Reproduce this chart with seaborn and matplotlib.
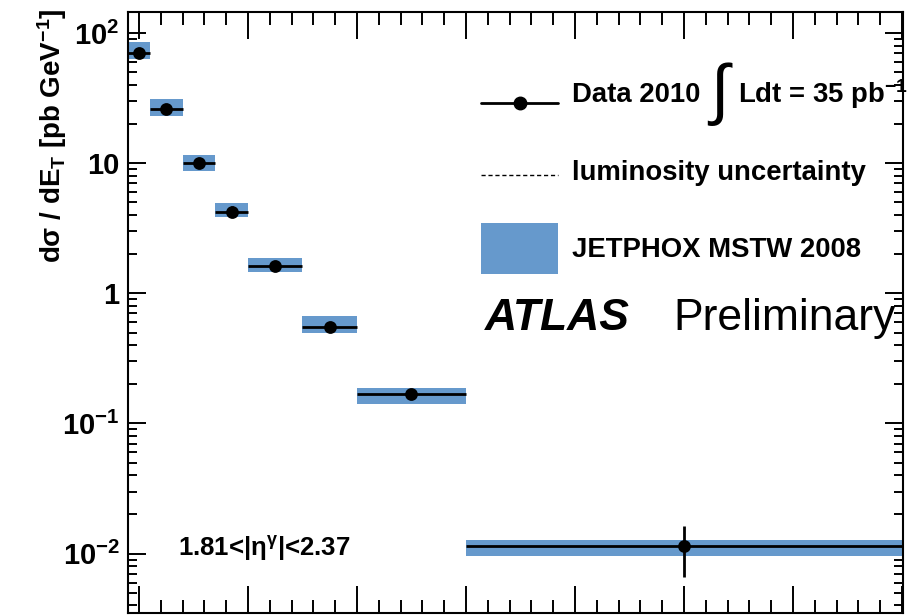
import numpy as np
import pandas as pd
import matplotlib
matplotlib.use("Agg")
import matplotlib.pyplot as plt
import seaborn as sns
from matplotlib.lines import Line2D
from matplotlib.patches import Patch
from matplotlib.legend_handler import HandlerLine2D
from matplotlib.ticker import (FixedLocator, FixedFormatter, MultipleLocator,
                               LogLocator, NullFormatter)

# ---------------- data ----------------
bin_lo = [45, 55, 70, 85, 100, 125, 150, 200]
bin_hi = [55, 70, 85, 100, 125, 150, 200, 400]
data_xsec = [70.0, 26.2, 10.0, 4.25, 1.63, 0.55, 0.168, 0.0114]
data_err = [3.5, 1.3, 0.5, 0.4, 0.09, 0.035, 0.012, 0.0048]
theory_lo = [63.0, 23.2, 8.63, 3.83, 1.47, 0.492, 0.141, 0.00953]
theory_hi = [84.7, 31.2, 11.6, 4.95, 1.88, 0.669, 0.189, 0.0128]
ytick_vals = [1e-2, 1e-1, 1, 10, 100]
ytick_labels = [r"10$^{-2}$", r"10$^{-1}$", "1", "10", r"10$^{2}$"]
legend_labels = ["Data 2010", "luminosity uncertainty", "JETPHOX MSTW 2008"]

# ---------------- style ----------------
sns.set_theme(style="ticks")
plt.rcParams['font.family'] = ['Liberation Sans', 'DejaVu Sans']
plt.rcParams['font.weight'] = 'bold'
plt.rcParams['mathtext.fontset'] = 'custom'
plt.rcParams['mathtext.rm'] = 'Liberation Sans:bold'
plt.rcParams['mathtext.it'] = 'Liberation Sans:italic:bold'
plt.rcParams['mathtext.bf'] = 'Liberation Sans:bold'
plt.rcParams['mathtext.default'] = 'rm'
for k in ['text.color', 'axes.labelcolor', 'xtick.color', 'ytick.color',
          'axes.edgecolor']:
    plt.rcParams[k] = 'black'

BLUE = '#6699cc'
W, H = 912, 616


class ShiftedLineHandler(HandlerLine2D):
    """Legend line handler with a vertical offset (pixels)."""
    def __init__(self, dy=0.0, **kw):
        super().__init__(**kw)
        self.dy = dy

    def create_artists(self, legend, orig_handle, xdescent, ydescent, width,
                       height, fontsize, trans):
        arts = super().create_artists(legend, orig_handle, xdescent, ydescent,
                                      width, height, fontsize, trans)
        for a in arts:
            a.set_ydata(np.asarray(a.get_ydata(), dtype=float) - self.dy)
        return arts


df = pd.DataFrame({
    'lo': bin_lo, 'hi': bin_hi, 'xsec': data_xsec, 'err': data_err,
    'th_lo': theory_lo, 'th_hi': theory_hi,
})
df['center'] = (df['lo'] + df['hi']) / 2
df['width'] = df['hi'] - df['lo']

fig = plt.figure(figsize=(W / 100, H / 100), dpi=100)
ax = fig.add_axes([128 / W, 1 - 613 / H, 775 / W, 601 / H])

# theory band
ax.bar(df['lo'], df['th_hi'] - df['th_lo'], bottom=df['th_lo'],
       width=df['width'], align='edge', color=BLUE, linewidth=0, zorder=1)
# data error bars
ax.errorbar(df['center'], df['xsec'], xerr=df['width'] / 2, yerr=df['err'],
            fmt='none', ecolor='black', elinewidth=2, capsize=0, zorder=2)
# data points
sns.scatterplot(data=df, x='center', y='xsec', ax=ax, color='black', s=85,
                edgecolor='black', linewidth=0, zorder=3, legend=False)

ax.set_yscale('log')
ax.set_xlim(45, 400.5)
ax.set_ylim(3.5e-3, 145)

ax.xaxis.set_major_locator(MultipleLocator(50))
ax.xaxis.set_minor_locator(MultipleLocator(10))
ax.yaxis.set_major_locator(FixedLocator(ytick_vals))
ax.yaxis.set_major_formatter(FixedFormatter(ytick_labels))
ax.yaxis.set_minor_locator(LogLocator(base=10, subs=np.arange(2, 10)))
ax.yaxis.set_minor_formatter(NullFormatter())

ax.tick_params(axis='x', which='major', direction='in', length=19.5, width=1.4,
               top=True, bottom=True, labelbottom=False, color='black')
ax.tick_params(axis='x', which='minor', direction='in', length=9.7, width=1.4,
               top=True, bottom=True, color='black')
ax.tick_params(axis='y', which='major', direction='in', length=13, width=1.4,
               left=True, right=True, labelsize=21, pad=6, color='black',
               labelcolor='black')
ax.tick_params(axis='y', which='minor', direction='in', length=6.5, width=1.4,
               left=True, right=True, color='black')
for s in ax.spines.values():
    s.set_linewidth(1.5)
    s.set_color('black')

ax.set_xlabel('')
ax.set_ylabel(r"d$\sigma$ / dE$_{\rm T}$ [pb GeV$^{-1}$]", fontsize=20,
              fontweight='bold', loc='top', color='black')
ax.yaxis.set_label_coords(-0.076, 1.006)

# eta range text
ax.text((178 - 128) / 775, (613 - 556) / 601,
        r"1.81<|$\eta^{\gamma}$|<2.37", fontsize=18.5, fontweight='bold',
        transform=ax.transAxes, va='baseline', ha='left', color='black')

# ATLAS Preliminary
ax.text((485 - 128) / 775, (613 - 330) / 601, "ATLAS", fontsize=32,
        fontweight='bold', fontstyle='italic', transform=ax.transAxes,
        va='baseline', ha='left', color='black')
ax.text((673 - 128) / 775, (613 - 330) / 601, "Preliminary", fontsize=32,
        fontweight='normal', transform=ax.transAxes, va='baseline', ha='left',
        color='black')

# legend
h_data = Line2D([], [], color='black', lw=2, marker='o', ms=9)
h_lumi = Line2D([], [], color='black', lw=1, ls=(0, (3, 2)))
h_theo = Patch(facecolor=BLUE, edgecolor='none')
leg = ax.legend([h_data, h_lumi, h_theo], legend_labels, loc='upper left',
                bbox_to_anchor=(481 / W, 1 - 68 / H),
                bbox_transform=fig.transFigure, frameon=False,
                prop={'family': 'Liberation Sans', 'weight': 'bold', 'size': 19.8},
                handlelength=2.8, handleheight=2.52, handletextpad=0.52,
                labelspacing=0.93, borderpad=0, borderaxespad=0,
                handler_map={h_data: ShiftedLineHandler(dy=13),
                             h_lumi: ShiftedLineHandler(dy=9)})
for t in leg.get_texts():
    t.set_color('black')

fig.canvas.draw()
bb = leg.get_texts()[0].get_window_extent()
x_int = bb.x1 + 19
fig.text(x_int / W, 1 - 94 / H, "\u222b", fontsize=48, fontweight='normal',
         family='Liberation Sans', ha='center', va='center', color='black')
fig.text((x_int + 18) / W, 1 - 103 / H, r"Ldt = 35 pb$^{-1}$", fontsize=19.8,
         fontweight='bold', ha='left', va='baseline', color='black')

fig.savefig("out.png", dpi=100)
